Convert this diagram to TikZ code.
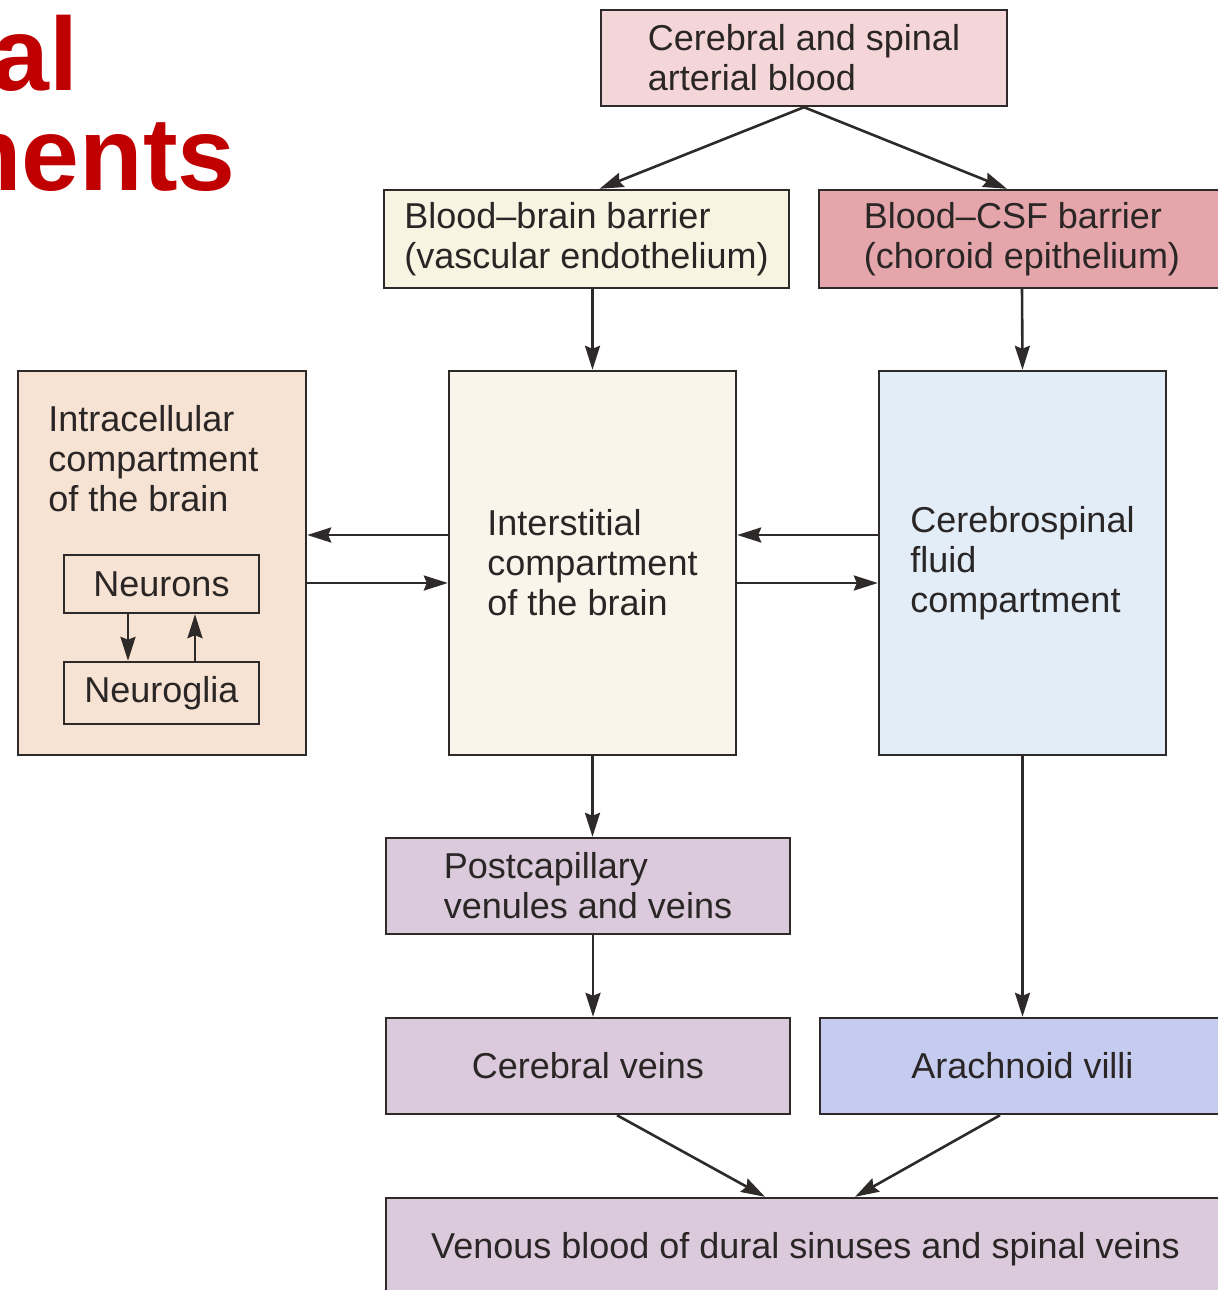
\documentclass[tikz,border=0pt]{standalone}
\usepackage{fontspec}
\setmainfont{Liberation Sans}
\usetikzlibrary{arrows.meta,positioning,calc}

\definecolor{titlered}{HTML}{C00000}
\definecolor{linegray}{HTML}{2E2A2A}
\definecolor{textgray}{HTML}{2A2626}
\definecolor{arterialpink}{HTML}{F5D6D8}
\definecolor{bbbcream}{HTML}{F7F5E2}
\definecolor{csfbarrier}{HTML}{E4A6AA}
\definecolor{intrapeach}{HTML}{F7E3D3}
\definecolor{intercream}{HTML}{FAF5EB}
\definecolor{csfblue}{HTML}{E3EDF8}
\definecolor{venlilac}{HTML}{DACADB}
\definecolor{villiblue}{HTML}{C6CBF0}

\begin{document}
\begin{tikzpicture}
[
	x=0.5pt, y=-0.5pt,
	box/.style={rectangle,draw=linegray,line width=1.2pt,inner sep=0pt,text=textgray,font=\fontsize{18}{20}\selectfont,align=left},
	flow/.style={draw=linegray,line width=1.3pt,-{Stealth[length=12pt,width=7.5pt,inset=1.5pt]}},
	heading/.style={anchor=base east,inner sep=0pt,text=titlered,font=\bfseries\fontsize{52}{52}\selectfont},
]
	\useasboundingbox (0,0) rectangle (1218,1290);
	\clip (0,0) rectangle (1218,1290);

	% title, cut at the left edge
	\begin{scope}
		\node[heading] (title1) at (79,90) {al};
		\node[heading] (title2) at (236,190) {ments};
	\end{scope}

	% barriers
	\begin{scope}
		\node[box,fill=arterialpink,minimum width=203pt,minimum height=48pt] (blood) at (804,58) {Cerebral and spinal\\arterial blood};
		\node[box,fill=bbbcream,minimum width=202.5pt,minimum height=49pt] (bbb) at (586.5,239) {Blood--brain barrier\\(vascular endothelium)};
		\node[box,fill=csfbarrier,minimum width=203pt,minimum height=49pt] (bcsf) at (1022,239) {Blood--CSF barrier\\(choroid epithelium)};

		\draw[flow] (blood.south) -- ([xshift=6.5pt]bbb.north);
		\draw[flow] (blood.south) -- ([xshift=-7.5pt]bcsf.north);
	\end{scope}

	% compartments
	\begin{scope}
		\node[box,fill=intrapeach,minimum width=144pt,minimum height=192pt] (intra) at (162,563) {};
		\node[anchor=north west,inner sep=0pt,text=textgray,font=\fontsize{18}{20}\selectfont,align=left] (intratext) at (48,405) {Intracellular\\compartment\\of the brain};
		\node[box,minimum width=97.5pt,minimum height=29pt] (neurons) at (161.5,584) {Neurons};
		\node[box,minimum width=97.5pt,minimum height=31pt] (glia) at (161.5,693) {Neuroglia};
		\node[box,fill=intercream,minimum width=143.5pt,minimum height=192pt] (inter) at (592.5,563) {Interstitial\\compartment\\of the brain};
		\node[box,fill=csfblue,minimum width=143.5pt,minimum height=192pt] (csf) at (1022.5,563) {Cerebrospinal\\fluid\\compartment};

		\draw[flow] ([xshift=-16.75pt]neurons.south) -- ([xshift=-16.75pt]glia.north);
		\draw[flow] ([xshift=16.75pt]glia.north) -- ([xshift=16.75pt]neurons.south);

		\draw[flow] (bbb.south -| inter.north) -- (inter.north);
		\draw[flow] (bcsf.south) -- (csf.north);

		\draw[flow] ([yshift=14pt]inter.west) -- ([yshift=14pt]intra.east);
		\draw[flow] ([yshift=-10pt]intra.east) -- ([yshift=-10pt]inter.west);
		\draw[flow] ([yshift=14pt]csf.west) -- ([yshift=14pt]inter.east);
		\draw[flow] ([yshift=-10pt]inter.east) -- ([yshift=-10pt]csf.west);
	\end{scope}

	% drainage
	\begin{scope}
		\node[box,fill=venlilac,minimum width=202pt,minimum height=48pt] (postcap) at (588,886) {Postcapillary\\venules and veins};
		\node[box,fill=venlilac,minimum width=202pt,minimum height=48pt] (cveins) at (588,1066) {Cerebral veins};
		\node[box,fill=villiblue,minimum width=202.5pt,minimum height=48pt] (villi) at (1022.5,1066) {Arachnoid villi};
		\node[box,fill=venlilac,minimum width=419.5pt,minimum height=51pt] (venous) at (805.5,1249) {Venous blood of dural sinuses and spinal veins};

		\draw[flow] (inter.south) -- (inter.south |- postcap.north);
		\draw[flow] ([xshift=2.5pt]postcap.south) -- ([xshift=2.5pt]cveins.north);
		\draw[flow] (csf.south) -- (villi.north);
		\draw[flow] ([xshift=14.5pt]cveins.south) -- ([xshift=-20.25pt]venous.north);
		\draw[flow] ([xshift=-11.25pt]villi.south) -- ([xshift=24.75pt]venous.north);
	\end{scope}
\end{tikzpicture}
\end{document}
